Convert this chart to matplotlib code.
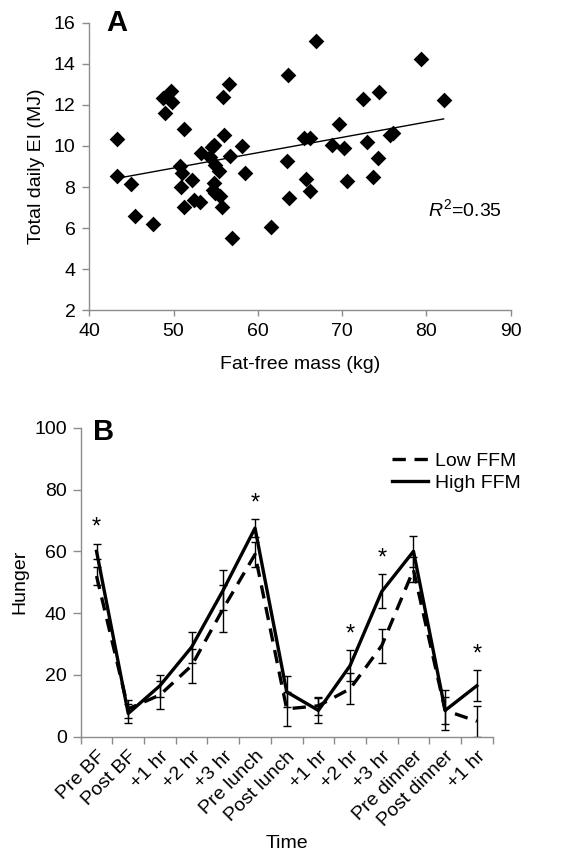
import numpy as np
import matplotlib
matplotlib.use("Agg")
import matplotlib.pyplot as plt
from matplotlib.lines import Line2D

plt.rcParams['font.family'] = ['Liberation Sans', 'DejaVu Sans']
plt.rcParams['mathtext.fontset'] = 'custom'
plt.rcParams['mathtext.rm'] = 'Liberation Sans'
plt.rcParams['mathtext.it'] = 'Liberation Sans:italic'

# panel A: fat-free mass (kg) vs total daily EI (MJ)
ffm = [43.25, 43.25, 44.95, 45.48, 47.56, 48.71, 49.69, 49.83, 49.02, 51.27,
       50.82, 50.96, 50.93, 52.24, 51.27, 52.48, 53.16, 53.23, 54.34, 54.52,
       54.83, 55.88, 56.63, 55.98, 56.69, 54.97, 55.33, 54.79, 54.67, 54.97,
       55.50, 55.78, 56.96, 58.08, 58.49, 61.55, 63.63, 63.45, 63.69, 66.89,
       65.47, 66.18, 65.67, 66.18, 69.68, 68.85, 70.24, 70.60, 72.50, 74.39,
       72.98, 73.69, 74.28, 75.67, 75.99, 79.41, 82.04]
ei = [10.32, 8.53, 8.13, 6.60, 6.18, 12.32, 12.69, 12.16, 11.62, 10.81,
      9.02, 8.66, 7.98, 8.33, 7.01, 7.38, 7.26, 9.65, 9.46, 9.96,
      10.04, 12.40, 13.00, 10.53, 9.51, 9.08, 8.77, 8.18, 7.87, 7.72,
      7.56, 7.04, 5.50, 10.00, 8.66, 6.06, 13.44, 9.27, 7.45, 15.12,
      10.41, 10.41, 8.41, 7.79, 11.08, 10.07, 9.90, 8.27, 12.27, 12.62,
      10.21, 8.47, 9.43, 10.53, 10.64, 14.22, 12.23]

# panel B: hunger over the day
times = ['Pre BF', 'Post BF', '+1 hr', '+2 hr', '+3 hr', 'Pre lunch',
         'Post lunch', '+1 hr', '+2 hr', '+3 hr', 'Pre dinner',
         'Post dinner', '+1 hr']
low_ffm = [52, 9, 13.5, 23, 41.5, 59, 9, 10, 15.5, 29.5, 54, 8.5, 5]
low_err = [3, 3, 4.5, 5.5, 7.5, 4, 5.5, 3, 5, 5.5, 4, 4.3, 5]
high_ffm = [60, 7.5, 16.5, 29, 47.5, 67.5, 14.5, 8.5, 23, 47, 60, 8.5, 16.5]
high_err = [2.5, 3, 3.5, 5, 6.5, 3, 5, 4, 5, 5.5, 5, 6.5, 5]
signif = [0, 5, 8, 9, 12]

grey = '#8c8c8c'
fs = 14

fig = plt.figure(figsize=(5.86, 8.56), dpi=100)

def style_axes(ax):
    for s in ['top', 'right']:
        ax.spines[s].set_visible(False)
    for s in ['left', 'bottom']:
        ax.spines[s].set_color(grey)
        ax.spines[s].set_linewidth(1)
    ax.tick_params(axis='both', which='major', color=grey, length=4,
                   width=1, labelsize=fs, labelcolor='black')

# ---- A ----
ax1 = fig.add_axes([0.1524, 0.6375, 0.7191, 0.3360])
ax1.scatter(ffm, ei, marker='D', s=64, color='black', linewidths=0, zorder=3)
m, b = np.polyfit(ffm, ei, 1)
xl = np.array([min(ffm), max(ffm)])
ax1.plot(xl, m * xl + b, color='black', lw=1)
ax1.set_xlim(40, 90)
ax1.set_ylim(2, 16)
ax1.set_xticks(range(40, 91, 10))
ax1.set_yticks(range(2, 17, 2))
style_axes(ax1)
ax1.tick_params(axis='x', length=4, pad=5)
ax1.tick_params(axis='y', length=5, pad=5)
ax1.set_xlabel('Fat-free mass (kg)', fontsize=fs, labelpad=12)
ax1.set_ylabel('Total daily EI (MJ)', fontsize=fs, labelpad=6)
ax1.text(80.2, 6.9, r'$\mathit{R}^{2}$=0.35', fontsize=fs, va='center')
ax1.text(0.04, 1.0, 'A', transform=ax1.transAxes, fontsize=21,
         fontweight='bold', va='center')

# ---- B ----
ax2 = fig.add_axes([0.1377, 0.1394, 0.7031, 0.3609])
x = np.arange(len(times))
ax2.plot(x, low_ffm, color='black', lw=2.4, dashes=(4, 2.6), label='Low FFM')
ax2.plot(x, high_ffm, color='black', lw=2.4, label='High FFM')
ax2.errorbar(x, low_ffm, yerr=low_err, fmt='none', ecolor='black',
             elinewidth=1, capsize=3, capthick=1)
ax2.errorbar(x, high_ffm, yerr=high_err, fmt='none', ecolor='black',
             elinewidth=1, capsize=3, capthick=1)
for i in signif:
    top = max(high_ffm[i] + high_err[i], low_ffm[i] + low_err[i])
    ax2.text(x[i], top + 1.5, '*', ha='center', va='bottom', fontsize=17)
ax2.set_xlim(-0.5, len(times) - 0.5)
ax2.set_ylim(0, 100)
ax2.set_yticks(range(0, 101, 20))
ax2.set_xticks(np.arange(-0.5, len(times), 1))
ax2.set_xticklabels([])
ax2.set_xticks(x, minor=True)
ax2.set_xticklabels(times, minor=True, rotation=45, ha='right',
                    rotation_mode='anchor', fontsize=fs)
style_axes(ax2)
ax2.tick_params(axis='y', length=6, pad=4)
ax2.tick_params(axis='x', which='major', length=5)
ax2.tick_params(axis='x', which='minor', length=0, pad=8)
ax2.set_xlabel('Time', fontsize=fs, labelpad=4)
ax2.set_ylabel('Hunger', fontsize=fs, labelpad=4)
ax2.text(0.03, 0.985, 'B', transform=ax2.transAxes, fontsize=21,
         fontweight='bold', va='center')
handles = [Line2D([], [], color='black', lw=2.4, dashes=(4, 2.6)),
           Line2D([], [], color='black', lw=2.4)]
ax2.legend(handles, ['Low FFM', 'High FFM'], loc='upper left',
           bbox_to_anchor=(0.755, 0.92), frameon=False, fontsize=fs,
           handlelength=1.85, handletextpad=0.35, labelspacing=0.2,
           borderpad=0, borderaxespad=0)

fig.savefig('out.png', dpi=100)
